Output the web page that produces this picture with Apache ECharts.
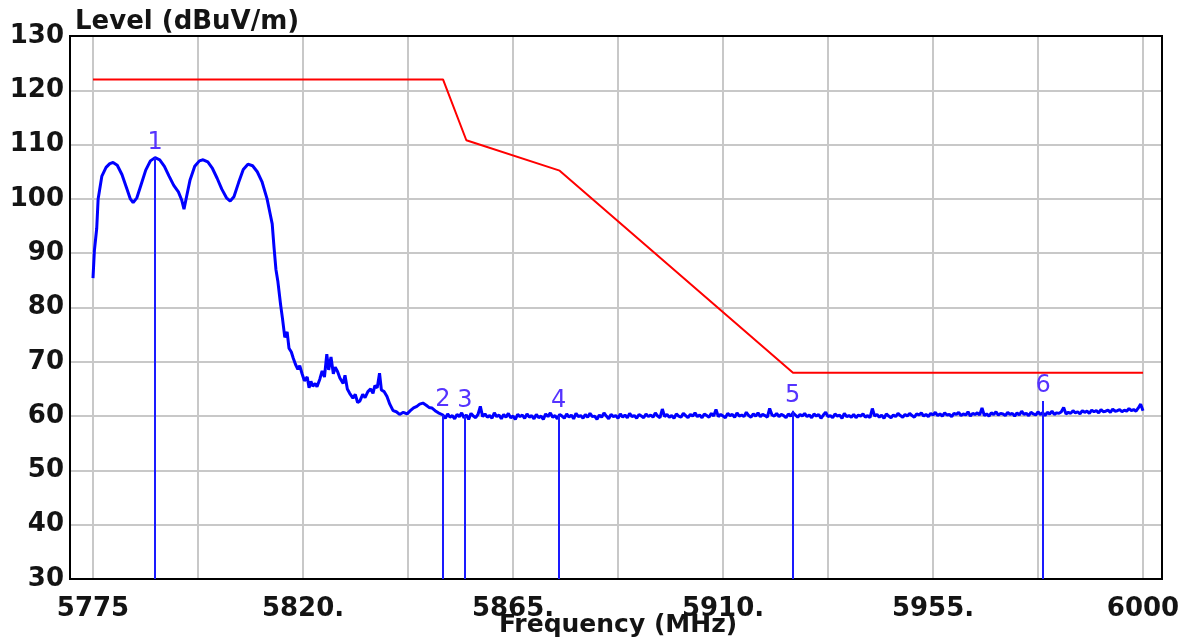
<!DOCTYPE html>
<html>
<head>
<meta charset="utf-8" />
<title>Level vs Frequency</title>
<script src="https://cdn.jsdelivr.net/npm/echarts@6/dist/echarts.min.js"></script>
</head>
<body style="margin:0;background:#fff">
<div id="main" style="width:1192px;height:641px;"></div>
<script type="text/javascript">
// measured trace, band part [MHz, dBuV/m]
var bandTrace = [
  [5775.0, 85.4], [5775.3, 90.5], [5775.8, 94.6], [5776.1, 100], [5776.9, 104.2], [5777.8, 105.8],
  [5778.6, 106.5], [5779.3, 106.7], [5780.2, 106.2], [5781.2, 104.5], [5782.2, 102.0], [5783.0, 100.0],
  [5783.6, 99.3], [5784.4, 100.2], [5785.3, 102.6], [5786.3, 105.3], [5787.3, 107.0], [5788.3, 107.6],
  [5789.3, 107.2], [5790.3, 106.0], [5791.3, 104.2], [5792.3, 102.5], [5793.3, 101.3], [5794.0, 99.8],
  [5794.5, 98.1], [5795.0, 100.2], [5795.8, 103.5], [5796.8, 106.0], [5797.8, 107.0], [5798.6, 107.2],
  [5799.6, 106.8], [5800.6, 105.6], [5801.6, 103.8], [5802.6, 101.8], [5803.6, 100.2], [5804.4, 99.6],
  [5805.2, 100.4], [5806.2, 103.0], [5807.2, 105.4], [5808.2, 106.4], [5809.2, 106.1], [5810.2, 105.0],
  [5811.2, 103.2], [5812.3, 100.0], [5812.9, 97.5], [5813.4, 95.4], [5813.8, 91], [5814.2, 87],
  [5814.6, 84.9], [5815.2, 80.5], [5815.6, 78], [5816.1, 74.5], [5816.6, 75.5], [5817.0, 72.5],
  [5817.5, 71.8], [5817.9, 70.7], [5818.4, 69.5], [5818.9, 68.6], [5819.3, 69.3], [5819.8, 67.8],
  [5820.3, 66.5], [5820.9, 67.2], [5821.3, 65.2], [5821.7, 66.4], [5822.1, 65.5], [5822.6, 66.0],
  [5823.0, 65.4], [5823.6, 66.8], [5824.1, 68.3], [5824.6, 67.2], [5825.1, 71.4], [5825.5, 68.5],
  [5826.0, 70.9], [5826.5, 67.8], [5826.9, 69.0], [5827.4, 68.2], [5827.9, 67.0], [5828.6, 66.0],
  [5829.0, 67.5], [5829.5, 65.0], [5830.0, 64.2], [5830.7, 63.3], [5831.2, 64.0], [5831.7, 62.5],
  [5832.2, 62.8], [5832.8, 64.0], [5833.3, 63.4], [5833.9, 64.5], [5834.5, 65.0], [5835.0, 64.2],
  [5835.4, 65.6], [5835.9, 65.2], [5836.4, 67.9], [5836.8, 64.8], [5837.4, 64.5], [5838.0, 63.6],
  [5838.6, 62.2], [5839.3, 61.0], [5840.0, 60.8], [5840.7, 60.3], [5841.5, 60.7], [5842.3, 60.4],
  [5843.0, 61.0], [5843.7, 61.5], [5844.4, 61.8], [5845.0, 62.2], [5845.7, 62.4], [5846.4, 62.0],
  [5847.0, 61.6], [5847.6, 61.5], [5848.3, 61.0], [5849.0, 60.6], [5849.4, 60.4]
];

// noise floor, one reading per 0.5 MHz from 5850
var floorStart = 5850;
var floorStep = 0.5;
var floorLevels = [
  60.2, 59.6, 60.4, 59.8, 60.1, 59.5, 60.3, 59.9, 60.6, 59.7, 60.2, 59.4, 60.5, 60.0, 59.7, 60.3, 61.8, 59.9, 60.4, 59.8,
  60.1, 59.6, 60.6, 59.9, 60.2, 59.5, 60.3, 59.8, 60.5, 59.7, 60.0, 59.4, 60.3, 59.9, 60.2, 59.6, 60.4, 59.8, 60.1, 59.5,
  60.3, 59.7, 60.0, 59.4, 60.4, 59.9, 60.6, 59.8, 60.1, 59.5, 60.3, 60.0, 59.6, 60.4, 59.8, 60.2, 59.5, 60.5, 59.9, 60.1,
  59.6, 60.3, 59.8, 60.5, 59.9, 60.0, 59.4, 60.2, 59.8, 60.6, 60.0, 59.5, 60.3, 59.9, 60.1, 59.6, 60.4, 59.8, 60.2, 59.7,
  60.5, 59.9, 60.1, 59.6, 60.3, 60.0, 59.7, 60.4, 59.9, 60.2, 59.8, 60.6, 60.0, 59.7, 61.3, 59.9, 60.3, 59.8, 60.1, 59.6,
  60.4, 60.0, 59.8, 60.5, 60.1, 59.7, 60.3, 60.0, 60.6, 59.9, 60.2, 59.7, 60.4, 60.1, 59.8, 60.5, 60.0, 61.2, 59.9, 60.3,
  60.0, 59.7, 60.5, 60.1, 60.3, 59.8, 60.6, 60.0, 60.2, 59.9, 60.7, 60.1, 59.8, 60.4, 60.0, 60.6, 59.9, 60.3, 60.1, 59.8,
  61.4, 60.2, 60.0, 60.5, 59.9, 60.3, 60.1, 59.7, 60.4, 60.0, 60.6, 60.2, 59.8, 60.3, 60.0, 60.5, 59.9, 60.2, 59.7, 60.4,
  60.0, 60.3, 59.6, 60.2, 60.7, 59.9, 60.1, 59.7, 60.4, 60.0, 60.2, 59.6, 60.5, 59.9, 60.1, 59.8, 60.3, 59.7, 60.2, 60.0,
  60.4, 59.8, 60.1, 59.7, 61.4, 60.0, 60.3, 59.8, 60.2, 59.6, 60.4, 60.0, 59.7, 60.2, 59.9, 60.5, 60.1, 59.8, 60.3, 60.0,
  60.5, 60.1, 59.8, 60.4, 60.2, 60.6, 60.0, 60.3, 59.9, 60.5, 60.2, 60.7, 60.1, 60.4, 60.0, 60.6, 60.2, 60.3, 59.9, 60.5,
  60.3, 60.7, 60.1, 60.4, 60.2, 60.8, 60.0, 60.5, 60.3, 60.6, 60.2, 61.5, 60.1, 60.4, 60.0, 60.6, 60.3, 60.8, 60.2, 60.5,
  60.4, 60.1, 60.7, 60.3, 60.5, 60.0, 60.6, 60.2, 60.9, 60.3, 60.5, 60.1, 60.7, 60.4, 60.2, 60.8, 60.3, 60.6, 60.1, 60.7,
  60.4, 60.9, 60.3, 60.6, 60.5, 60.8, 61.6, 60.4, 60.7, 60.5, 61.0, 60.6, 60.8, 60.4, 61.0, 60.7, 60.9, 60.5, 61.1, 60.8,
  61.0, 60.6, 61.2, 60.8, 60.9, 61.1, 60.7, 61.3, 60.9, 61.0, 61.2, 60.8, 61.1, 60.9, 61.4, 61.0, 61.2, 60.9, 61.5, 62.2,
  61.0
];

// limit line
var limitFreq = [5775, 5850, 5855, 5875, 5925, 6000];
var limitLevel = [122, 122, 110.8, 105.2, 68, 68];

// markers
var markerNames = ['1', '2', '3', '4', '5', '6'];
var markerFreq = [5788.3, 5850.0, 5854.7, 5874.8, 5924.9, 5978.6];
var markerLevel = [107.6, 60.2, 60.0, 60.1, 61.0, 62.8];

var xTickLabels = ['5775', '5820.', '5865.', '5910.', '5955.', '6000'];

var traceData = bandTrace.concat(floorLevels.map(function (v, i) {
  return [floorStart + i * floorStep, v];
}));
var limitData = limitFreq.map(function (f, i) { return [f, limitLevel[i]]; });
var markData = markerFreq.map(function (f, i) {
  return [{ coord: [f, 30] }, { coord: [f, markerLevel[i]], name: markerNames[i] }];
});

var font = 'DejaVu Sans';
var textColor = '#141414';
var gridColor = '#c8c8c8';

var myChart = echarts.init(document.getElementById('main'));
myChart.setOption({
  animation: false,
  backgroundColor: '#fff',
  title: {
    text: 'Level (dBuV/m)',
    left: 70,
    top: 4,
    textStyle: { fontFamily: font, fontSize: 26, fontWeight: 'bold', color: textColor }
  },
  grid: [
    { left: 70, right: 30, top: 36, bottom: 62, show: true, borderColor: '#000', borderWidth: 2, z: 5, outerBoundsMode: 'none' },
    { left: 93, right: 49, top: 36, bottom: 62, outerBoundsMode: 'none' }
  ],
  xAxis: [
    { gridIndex: 0, type: 'value', min: 0, max: 1, show: false },
    {
      gridIndex: 1, type: 'value', min: 5775, max: 6000, interval: 22.5,
      axisLine: { show: false }, axisTick: { show: false },
      splitLine: { show: true, lineStyle: { color: gridColor, width: 2 } },
      axisLabel: {
        interval: 0, margin: 17,
        fontFamily: font, fontSize: 26, fontWeight: 'bold', color: textColor,
        formatter: function (v) {
          var k = Math.round((v - 5775) / 22.5);
          return k % 2 === 0 ? xTickLabels[k / 2] : '';
        }
      },
      name: 'Frequency (MHz)', nameLocation: 'middle', nameGap: 34, nameMoveOverlap: false,
      nameTextStyle: { fontFamily: font, fontSize: 25, fontWeight: 'bold', color: textColor }
    }
  ],
  yAxis: [
    {
      gridIndex: 0, type: 'value', min: 30, max: 130, interval: 10,
      axisLine: { show: false }, axisTick: { show: false },
      splitLine: { show: true, lineStyle: { color: gridColor, width: 2 } },
      axisLabel: { margin: 6, fontFamily: font, fontSize: 26, fontWeight: 'bold', color: textColor }
    },
    { gridIndex: 1, type: 'value', min: 30, max: 130, show: false, splitLine: { show: false } }
  ],
  series: [
    {
      name: 'Limit', type: 'line', xAxisIndex: 1, yAxisIndex: 1,
      data: limitData, symbol: 'none',
      lineStyle: { color: '#ff0000', width: 2 }
    },
    {
      name: 'Level', type: 'line', xAxisIndex: 1, yAxisIndex: 1,
      data: traceData, symbol: 'none',
      lineStyle: { color: '#0000ff', width: 3 },
      markLine: {
        silent: true, symbol: 'none',
        lineStyle: { color: '#1a1aff', width: 2, type: 'solid' },
        label: {
          show: true, position: 'end', distance: 3,
          formatter: function (p) { return p.name; },
          fontFamily: font, fontSize: 24, color: '#5533ff'
        },
        data: markData
      }
    }
  ]
});
</script>
</body>
</html>
